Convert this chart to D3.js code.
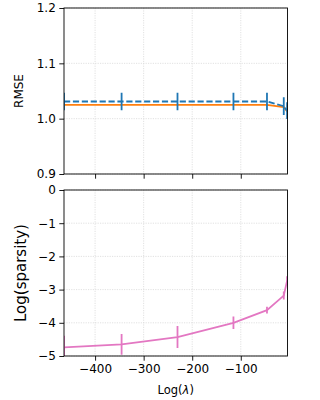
<!DOCTYPE html>
<html>
<head>
<meta charset="utf-8">
<script src="https://cdn.jsdelivr.net/npm/d3@7"></script>
<style>
  body { margin: 0; background: #fff; }
  svg text { font-family: "DejaVu Sans", sans-serif; fill: #000; }
  .grid line { stroke: #d9d9d9; stroke-width: 0.8; stroke-dasharray: 1.2,1.2; }
</style>
</head>
<body>
<script>
// log(lambda) values
var logLambda = [-464, -345.4, -230.3, -115.1, -46.05, -11.5, -4.6];

// RMSE series
var rmseBlue = [1.031, 1.031, 1.031, 1.031, 1.031, 1.0226, 1.0145];
var rmseBlueErr = [0.0157, 0.0157, 0.0157, 0.0157, 0.0157, 0.016, 0.015];
var rmseOrange = [1.025, 1.025, 1.025, 1.025, 1.025, 1.021, 1.013];

// sparsity series
var logSparsity = [-4.74, -4.65, -4.43, -4.0, -3.62, -3.18, -2.73];
var logSparsityErr = [0.35, 0.31, 0.33, 0.19, 0.1, 0.12, 0.13];

var xTicks = [-400, -300, -200, -100];
var rmseTicks = [0.9, 1.0, 1.1, 1.2];
var sparsityTicks = [0, -1, -2, -3, -4, -5];

var width = 320, height = 400;
var left = 64, right = 287.5;

var svg = d3.select("body").append("svg")
    .attr("width", width)
    .attr("height", height);

var x = d3.scaleLinear().domain([-464, -3.8]).range([left, right]);

function panel(top, bottom, yDomain, yTicks, yFmt, showXLabels, id) {
    var y = d3.scaleLinear().domain(yDomain).range([bottom, top]);

    svg.append("clipPath").attr("id", id)
        .append("rect")
        .attr("x", left).attr("y", top)
        .attr("width", right - left).attr("height", bottom - top);

    // grid
    var g = svg.append("g").attr("class", "grid");
    g.selectAll(".gx").data(xTicks).enter().append("line")
        .attr("x1", function(d){ return x(d); }).attr("x2", function(d){ return x(d); })
        .attr("y1", top).attr("y2", bottom);
    g.selectAll(".gy").data(yTicks).enter().append("line")
        .attr("x1", left).attr("x2", right)
        .attr("y1", function(d){ return y(d); }).attr("y2", function(d){ return y(d); });

    var plot = svg.append("g").attr("clip-path", "url(#" + id + ")");

    // axes
    var ax = svg.append("g")
        .attr("transform", "translate(0," + bottom + ")")
        .call(d3.axisBottom(x).tickValues(xTicks).tickSize(4.7).tickPadding(3.5)
            .tickFormat(showXLabels ? d3.format("d") : function(){ return ""; }));
    var ay = svg.append("g")
        .attr("transform", "translate(" + left + ",0)")
        .call(d3.axisLeft(y).tickValues(yTicks).tickSize(4.7).tickPadding(3.5).tickFormat(yFmt));
    [ax, ay].forEach(function(a){
        a.select(".domain").remove();
        a.selectAll("line").attr("stroke", "#000").attr("stroke-width", 0.9);
        a.selectAll("text").attr("font-size", 12).attr("fill", "#000")
            .style("font-family", "DejaVu Sans");
    });

    svg.append("rect")
        .attr("x", left).attr("y", top)
        .attr("width", right - left).attr("height", bottom - top)
        .attr("fill", "none").attr("stroke", "#000").attr("stroke-width", 0.9);

    return {y: y, plot: plot};
}

// top panel: RMSE
var p1 = panel(8, 174, [0.9, 1.2], rmseTicks, d3.format(".1f"), false, "clipTop");
var idx = d3.range(logLambda.length);

p1.plot.append("path")
    .datum(idx)
    .attr("fill", "none")
    .attr("stroke", "#ff7f0e")
    .attr("stroke-width", 1.8)
    .attr("d", d3.line().x(function(i){ return x(logLambda[i]); }).y(function(i){ return p1.y(rmseOrange[i]); }));

p1.plot.append("path")
    .datum(idx)
    .attr("fill", "none")
    .attr("stroke", "#1f77b4")
    .attr("stroke-width", 1.8)
    .attr("stroke-dasharray", "6.2,2.7")
    .attr("d", d3.line().x(function(i){ return x(logLambda[i]); }).y(function(i){ return p1.y(rmseBlue[i]); }));

p1.plot.selectAll(".eb").data(idx).enter().append("line")
    .attr("x1", function(i){ return x(logLambda[i]); })
    .attr("x2", function(i){ return x(logLambda[i]); })
    .attr("y1", function(i){ return p1.y(rmseBlue[i] - rmseBlueErr[i]); })
    .attr("y2", function(i){ return p1.y(rmseBlue[i] + rmseBlueErr[i]); })
    .attr("stroke", "#1f77b4")
    .attr("stroke-width", 1.8);

// bottom panel: sparsity
var p2 = panel(190, 356, [-5, 0], sparsityTicks, d3.format("d"), true, "clipBottom");

p2.plot.append("path")
    .datum(idx)
    .attr("fill", "none")
    .attr("stroke", "#e377c2")
    .attr("stroke-width", 1.8)
    .attr("d", d3.line().x(function(i){ return x(logLambda[i]); }).y(function(i){ return p2.y(logSparsity[i]); }));

p2.plot.selectAll(".eb").data(idx).enter().append("line")
    .attr("x1", function(i){ return x(logLambda[i]); })
    .attr("x2", function(i){ return x(logLambda[i]); })
    .attr("y1", function(i){ return p2.y(logSparsity[i] - logSparsityErr[i]); })
    .attr("y2", function(i){ return p2.y(logSparsity[i] + logSparsityErr[i]); })
    .attr("stroke", "#e377c2")
    .attr("stroke-width", 1.8);

// labels
svg.append("text")
    .attr("transform", "translate(23,91) rotate(-90)")
    .attr("text-anchor", "middle")
    .attr("font-size", 12)
    .text("RMSE");

svg.append("text")
    .attr("transform", "translate(26,273) rotate(-90)")
    .attr("text-anchor", "middle")
    .attr("font-size", 15)
    .text("Log(sparsity)");

var xl = svg.append("text")
    .attr("x", (left + right) / 2)
    .attr("y", 394)
    .attr("text-anchor", "middle")
    .attr("font-size", 11.5);
xl.append("tspan").text("Log(");
xl.append("tspan").attr("font-style", "italic").text("λ");
xl.append("tspan").text(")");
</script>
</body>
</html>
